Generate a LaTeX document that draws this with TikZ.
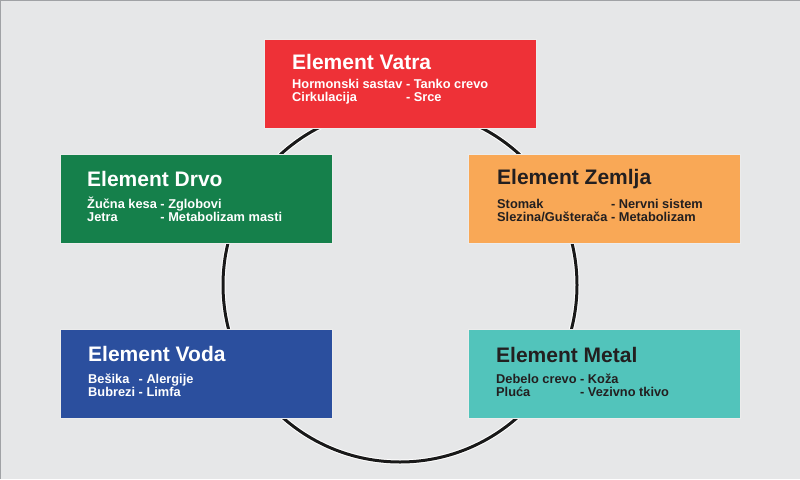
\documentclass[tikz,border=0pt]{standalone}
\usepackage{fontspec}
\setmainfont{Liberation Sans}
\definecolor{bgc}{HTML}{E6E7E8}
\definecolor{framec}{HTML}{A0A2A5}
\definecolor{vatrac}{HTML}{EE3137}
\definecolor{drvoc}{HTML}{15804B}
\definecolor{zemljac}{HTML}{F9A856}
\definecolor{vodac}{HTML}{2B4F9E}
\definecolor{metalc}{HTML}{52C4BB}
\definecolor{darktxt}{HTML}{231F20}
\tikzset{
  elbox/.style={draw=white!85!gray, line width=0.8pt, minimum width=272pt, minimum height=89pt, inner sep=0pt, anchor=north west},
  eltitle/.style={anchor=base west, inner sep=0pt, font=\fontsize{21}{21}\selectfont\bfseries},
  elbody/.style={anchor=base west, inner sep=0pt, font=\fontsize{12.8}{12.8}\selectfont\bfseries},
}
\newcommand{\rows}[1]{\begin{tabular}[t]{@{}l@{ }l@{}}#1\end{tabular}}
\begin{document}
\begin{tikzpicture}[x=1pt,y=-1pt]
\useasboundingbox (0,0) rectangle (800,479);
\fill[bgc] (0,0) rectangle (800,479);
\draw[framec, line width=1.5pt] (0,479) -- (0,0) -- (800,0);
% circle
\coordinate (c) at (400,285);
\draw[white, line width=5pt] (c) circle[radius=177];
\draw[black!90, line width=3pt] (c) circle[radius=177];
% boxes
\node[elbox, fill=vatrac] (vatra) at (264,39) {};
\node[elbox, fill=drvoc] (drvo) at (60,154) {};
\node[elbox, fill=zemljac] (zemlja) at (468,154) {};
\node[elbox, fill=vodac] (voda) at (60,329) {};
\node[elbox, fill=metalc] (metal) at (468,329) {};
% titles
\node[eltitle, text=white] (tvatra) at (292,69) {Element Vatra};
\node[eltitle, text=white] (tdrvo) at (87,186) {Element Drvo};
\node[eltitle, text=darktxt] (tzemlja) at (497,184) {Element Zemlja};
\node[eltitle, text=white] (tvoda) at (88,361) {Element Voda};
\node[eltitle, text=darktxt] (tmetal) at (496,362) {Element Metal};
% bodies
\node[elbody, text=white] (bvatra) at (292,88) {\rows{Hormonski sastav & - Tanko crevo\\ Cirkulacija & - Srce}};
\node[elbody, text=white] (bdrvo) at (87,208) {\rows{Žučna kesa & - Zglobovi\\ Jetra & - Metabolizam masti}};
\node[elbody, text=darktxt] (bzemlja) at (497,208) {\rows{Stomak & - Nervni sistem\\ Slezina/Gušterača & - Metabolizam}};
\node[elbody, text=white] (bvoda) at (88,383) {\rows{Bešika & - Alergije\\ Bubrezi & - Limfa}};
\node[elbody, text=darktxt] (bmetal) at (496,383) {\rows{Debelo crevo & - Koža\\ Pluća & - Vezivno tkivo}};
\end{tikzpicture}
\end{document}
